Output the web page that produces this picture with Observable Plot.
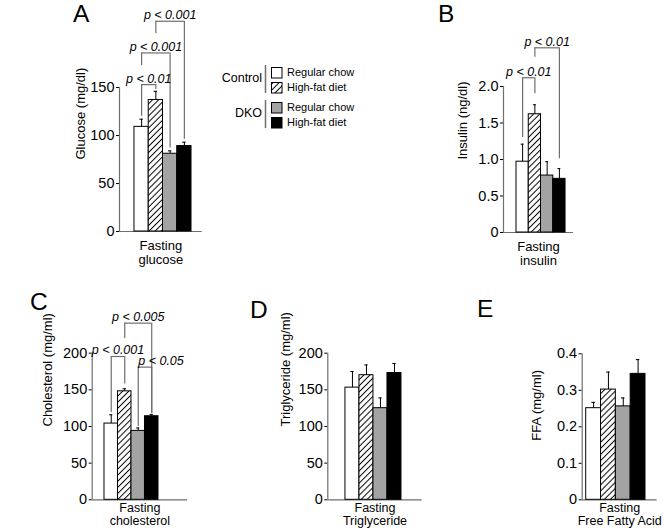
<!DOCTYPE html>
<html><head><meta charset="utf-8">
<script src="https://cdn.jsdelivr.net/npm/d3@7"></script>
<script src="https://cdn.jsdelivr.net/npm/@observablehq/plot@0.6"></script>
<style>
body{margin:0;background:#fff;font-family:"Liberation Sans",Arial,Helvetica,sans-serif;}
#fig{position:relative;width:664px;height:531px;overflow:hidden;background:#fff;}
.letter{position:absolute;font-size:24.5px;line-height:normal;color:#000;}
</style></head><body><div id="fig"></div>
<script>
// ---------- data ----------
const groups = ["Control, Regular chow", "Control, High-fat diet", "DKO, Regular chow", "DKO, High-fat diet"];
const legendGroups = ["Control", "DKO"];
const legendDiets = ["Regular chow", "High-fat diet"];

const glucoseMean = [109, 137, 81, 89];
const glucoseErr  = [8, 9, 3, 4];
const glucoseTicks = [0, 50, 100, 150];
const glucoseTickLabels = ["0", "50", "100", "150"];

const insulinMean = [0.97, 1.62, 0.78, 0.735];
const insulinErr  = [0.24, 0.13, 0.19, 0.14];
const insulinTicks = [0, 0.5, 1, 1.5, 2];
const insulinTickLabels = ["0", "0.5", "1.0", "1.5", "2.0"];

const cholMean = [104, 148, 94, 114];
const cholErr  = [12, 3.5, 4, 2.5];
const cholTicks = [0, 50, 100, 150, 200];
const cholTickLabels = ["0", "50", "100", "150", "200"];

const tgMean = [153, 170, 125, 173];
const tgErr  = [22, 14, 14, 13];
const tgTicks = [0, 50, 100, 150, 200];
const tgTickLabels = ["0", "50", "100", "150", "200"];

const ffaMean = [0.251, 0.302, 0.256, 0.345];
const ffaErr  = [0.016, 0.048, 0.023, 0.039];
const ffaTicks = [0, 0.1, 0.2, 0.3, 0.4];
const ffaTickLabels = ["0", "0.1", "0.2", "0.3", "0.4"];

// significance brackets: bar indices a,b; level & leg ends in data units
const glucoseBrackets = [
  {a: 0, b: 1, level: 153, aEnd: 120, bEnd: 148, label: "p < 0.01"},
  {a: 0, b: 2, level: 186, aEnd: 173, bEnd: 87, label: "p < 0.001"},
  {a: 1, b: 3, level: 219, aEnd: 206, bEnd: 96, label: "p < 0.001"}
];
const insulinBrackets = [
  {a: 0, b: 1, level: 2.12, aEnd: 1.30, bEnd: 1.90, label: "p < 0.01"},
  {a: 1, b: 3, level: 2.53, aEnd: 2.40, bEnd: 1.01, label: "p < 0.01"}
];
const cholBrackets = [
  {a: 0, b: 1, level: 195.5, aEnd: 119, bEnd: 158, label: "p < 0.001"},
  {a: 1, b: 3, level: 241, aEnd: 220, bEnd: 118, label: "p < 0.005"},
  {a: 2, b: 3, level: 181, aEnd: 100, bEnd: 118, label: "p < 0.05", start: true}
];

// ---------- styling ----------
const FONT = '"Liberation Sans", Arial, Helvetica, sans-serif';
const lineGray = "#6e6e6e";
const barGray = "#a3a3a3";
const fig = document.getElementById("fig");

function hatchDefs(id) {
  return () => {
    const defs = d3.create("svg:defs");
    const p = defs.append("pattern").attr("id", id).attr("patternUnits", "userSpaceOnUse")
      .attr("width", 4.3).attr("height", 4.3).attr("patternTransform", "rotate(45)");
    p.append("rect").attr("width", 4.3).attr("height", 4.3).attr("fill", "white");
    p.append("line").attr("x1", 2.15).attr("x2", 2.15).attr("y1", 0).attr("y2", 4.3)
      .attr("stroke", "black").attr("stroke-width", 1);
    return defs.node();
  };
}

function panel(p) {
  const rows = groups.map((g, i) => ({i, g, v: p.mean[i], e: p.err[i]}));
  const hid = "hatch-" + p.id;
  const fills = ["white", `url(#${hid})`, barGray, "black"];
  const ymax = p.ticks[p.ticks.length - 1];
  const br = p.brackets || [];
  const legs = br.flatMap(b => [
    {x: b.a + 0.5, y1: b.aEnd, y2: b.level},
    {x: b.b + 0.5, y1: b.bEnd, y2: b.level}
  ]);
  const svg = Plot.plot({
    width: 664, height: 531,
    marginLeft: p.left, marginRight: 664 - p.right, marginTop: p.top, marginBottom: 531 - p.bottom,
    x: {domain: p.xdom, axis: null},
    y: {domain: [0, ymax], ticks: p.ticks, tickFormat: d => p.tickLabels[p.ticks.indexOf(d)],
        tickSize: 3, tickPadding: 2, label: null},
    color: {type: "identity"},
    style: {background: "transparent", overflow: "visible", fontFamily: FONT, fontSize: "14.5px", color: "black"},
    marks: [
      hatchDefs(hid),
      Plot.ruleY([0], {stroke: lineGray, strokeWidth: 1.2}),
      Plot.ruleX([p.xdom[0]], {y1: () => 0, y2: () => ymax, stroke: lineGray, strokeWidth: 1.2}),
      Plot.rect(rows, {x1: "i", x2: d => d.i + 1, y1: () => 0, y2: "v", fill: d => fills[d.i], stroke: "black", strokeWidth: 1}),
      Plot.ruleX(rows, {x: d => d.i + 0.5, y1: "v", y2: d => d.v + d.e, stroke: "black", strokeWidth: 1}),
      Plot.ruleY(rows, {y: d => d.v + d.e, x1: d => d.i + 0.38, x2: d => d.i + 0.62, stroke: "black", strokeWidth: 1}),
      Plot.ruleX(legs, {x: "x", y1: "y1", y2: "y2", stroke: lineGray, strokeWidth: 1.2}),
      Plot.ruleY(br, {y: "level", x1: b => b.a + 0.5, x2: b => b.b + 0.5, stroke: lineGray, strokeWidth: 1.2}),
      Plot.text(br.filter(b => !b.start), {x: b => (b.a + b.b) / 2 + 0.5, y: "level", text: "label",
        lineAnchor: "bottom", dy: -2, fontStyle: "italic", fontSize: 12.5, fill: "black"}),
      Plot.text(br.filter(b => b.start), {x: b => b.a + 0.5, y: "level", text: "label", textAnchor: "start",
        lineAnchor: "bottom", dy: -2, fontStyle: "italic", fontSize: 12.5, fill: "black"}),
      Plot.text([p.ylabel], {frameAnchor: "left", rotate: -90, dx: p.ylabelDx, dy: p.ylabelDy || 0, fontSize: 13, fill: "black"}),
      Plot.text([p.xlabel], {frameAnchor: "bottom", lineAnchor: "top", dy: p.xlabelDy, fontSize: p.xlabelSize, lineHeight: p.xlabelLH, fill: "black"})
    ]
  });
  svg.style.position = "absolute";
  svg.style.left = "0px";
  svg.style.top = "0px";
  fig.appendChild(svg);
}

panel({id: "A", mean: glucoseMean, err: glucoseErr, ticks: glucoseTicks, tickLabels: glucoseTickLabels,
  brackets: glucoseBrackets, ylabel: "Glucose (mg/dl)", xlabel: "Fasting\nglucose",
  left: 119, right: 201.7, top: 87, bottom: 231, xdom: [-1.05, 4.75], ylabelDx: -39, xlabelDy: 8, xlabelLH: 1.12, xlabelSize: 13});
panel({id: "B", mean: insulinMean, err: insulinErr, ticks: insulinTicks, tickLabels: insulinTickLabels,
  brackets: insulinBrackets, ylabel: "Insulin (ng/dl)", xlabel: "Fasting\ninsulin",
  left: 503, right: 573, top: 86, bottom: 232, xdom: [-1.06, 4.65], ylabelDx: -41, xlabelDy: 8, xlabelLH: 1.12, xlabelSize: 13});
panel({id: "C", mean: cholMean, err: cholErr, ticks: cholTicks, tickLabels: cholTickLabels,
  brackets: cholBrackets, ylabel: "Cholesterol (mg/ml)", xlabel: "Fasting\ncholesterol",
  left: 91.7, right: 187, top: 352.7, bottom: 499.3, xdom: [-0.91, 6.15], ylabelDx: -44, xlabelDy: 3, xlabelLH: 1.06, xlabelSize: 12.5});
panel({id: "D", mean: tgMean, err: tgErr, ticks: tgTicks, tickLabels: tgTickLabels,
  brackets: [], ylabel: "Triglyceride (mg/ml)", xlabel: "Fasting\nTriglyceride",
  left: 327.3, right: 421.7, top: 352.7, bottom: 499.3, xdom: [-1.26, 5.48], ylabelDx: -42, xlabelDy: 3, xlabelLH: 1.06, xlabelSize: 12.5});
panel({id: "E", mean: ffaMean, err: ffaErr, ticks: ffaTicks, tickLabels: ffaTickLabels,
  brackets: [], ylabel: "FFA (mg/ml)", xlabel: "Fasting\nFree Fatty Acid",
  left: 581.7, right: 656.7, top: 353.3, bottom: 499.3, xdom: [-0.27, 4.79], ylabelDx: -45, ylabelDy: 14, xlabelDy: 3, xlabelLH: 1.06, xlabelSize: 12.5});

// ---------- panel letters ----------
const letters = [["A", 73, 0], ["B", 438, 0], ["C", 30, 288], ["D", 250, 296], ["E", 477, 295]];
for (const [t, x, y] of letters) {
  const d = document.createElement("div");
  d.className = "letter"; d.textContent = t;
  d.style.left = x + "px"; d.style.top = y + "px";
  fig.appendChild(d);
}

// ---------- legend ----------
const legendSvg = d3.create("svg").attr("width", 664).attr("height", 531)
  .style("position", "absolute").style("left", "0px").style("top", "0px").style("overflow", "visible");
legendSvg.append(hatchDefs("hatch-legend"));
const swFills = [["white", "url(#hatch-legend)"], [barGray, "black"]];
const groupTop = [65, 100];
legendGroups.forEach((g, gi) => {
  const y0 = groupTop[gi];
  legendSvg.append("text").attr("x", 262).attr("y", y0 + 14).attr("text-anchor", "end")
    .attr("dominant-baseline", "middle").attr("font-family", FONT).attr("font-size", 12.5).text(g);
  legendSvg.append("line").attr("x1", 265.5).attr("x2", 265.5).attr("y1", y0).attr("y2", y0 + 28)
    .attr("stroke", lineGray).attr("stroke-width", 1.5);
  legendDiets.forEach((dname, di) => {
    const sy = y0 + 2 + di * 15;
    legendSvg.append("rect").attr("x", 271.5).attr("y", sy + 0.5).attr("width", 10.5).attr("height", 10.5)
      .attr("fill", swFills[gi][di]).attr("stroke", "black").attr("stroke-width", 1);
    legendSvg.append("text").attr("x", 287).attr("y", sy + 6).attr("dominant-baseline", "middle")
      .attr("font-family", FONT).attr("font-size", 11).text(dname);
  });
});
fig.appendChild(legendSvg.node());
</script></body></html>
